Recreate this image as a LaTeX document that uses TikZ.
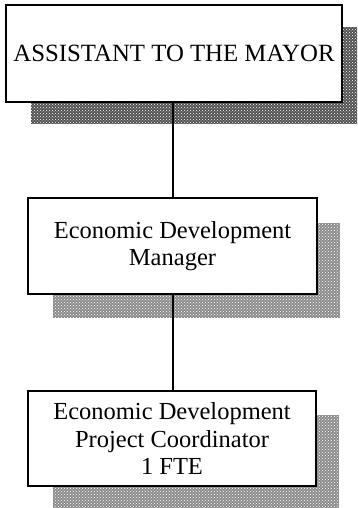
\documentclass[tikz,border=0pt]{standalone}
\usepackage{fontspec}
\setmainfont{Liberation Serif}
\usetikzlibrary{patterns}
\begin{document}
\begin{tikzpicture}[x=1pt,y=-1pt,
  box/.style={draw=black,line width=1.8pt,fill=white,align=center,inner sep=0pt,
    font=\fontsize{24.5}{27.5}\selectfont},
  darkshadow/.style={fill=black!68},
  lightshadow/.style={fill=black!45},
  dotover/.style={pattern=crosshatch dots,pattern color=white},
  link/.style={draw=black,line width=1.6pt}]
\clip (0,0) rectangle (357,508);
\fill[white] (0,0) rectangle (357,508);
% shadows
\fill[darkshadow] (31,27) rectangle (367,124);
\fill[dotover] (31,27) rectangle (367,124);
\fill[lightshadow] (53,223) rectangle (340,318);
\fill[dotover] (53,223) rectangle (340,318);
\fill[lightshadow] (53,415) rectangle (339,512);
\fill[dotover] (53,415) rectangle (339,512);
% boxes
\node[box,minimum width=336pt,minimum height=97pt,font=\fontsize{24.8}{28}\selectfont] (b1) at (174,53.5) {ASSISTANT TO THE MAYOR};
\node[box,minimum width=289pt,minimum height=96pt] (b2) at (172.5,246) {Economic Development\\Manager};
\node[box,minimum width=288pt,minimum height=95pt] (b3) at (172,438.5) {Economic Development\\Project Coordinator\\1 FTE};
% connectors
\draw[link] (b2.north) ++(0.5,0) coordinate (c2) -- (c2 |- b1.south);
\draw[link] (b3.north) ++(1,0) coordinate (c3) -- (c3 |- b2.south);
\end{tikzpicture}
\end{document}
